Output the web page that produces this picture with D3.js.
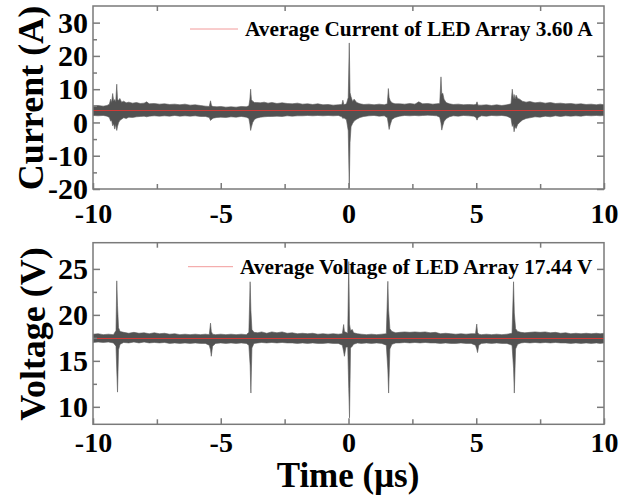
<!DOCTYPE html>
<html>
<head>
<meta charset="utf-8">
<script src="https://cdn.jsdelivr.net/npm/d3@7/dist/d3.min.js"></script>
<style>
  body { margin: 0; background: #fff; }
  svg { display: block; }
</style>
</head>
<body>
<div id="chart"></div>
<script>
// time axis (us)
var timeMajor = [-10, -5, 0, 5, 10];
var timeMinor = [-7.5, -2.5, 2.5, 7.5];

// current panel
var currentMajor = [-20, -10, 0, 10, 20, 30];
var currentMinor = [-15, -5, 5, 15, 25];
var currentAvg = 3.60;
// [time, upper, lower] envelope of the scope trace
var currentTrace = [
  [-10.0, 5.0, 2.1], [-9.8, 5.1, 2.0], [-9.6, 4.9, 2.1], [-9.45, 5.1, 1.9],
  [-9.36, 5.5, 1.5], [-9.31, 7.0, 0.4], [-9.27, 6.0, 0.6], [-9.23, 8.7, -1.0],
  [-9.19, 6.4, -0.4], [-9.15, 6.9, -2.0], [-9.11, 6.2, -0.6], [-9.07, 11.5, -2.4],
  [-9.04, 7.0, -1.2], [-9.0, 6.6, -0.1], [-8.95, 7.2, 0.6], [-8.88, 6.1, 1.0],
  [-8.8, 6.4, 1.4], [-8.7, 5.9, 1.2], [-8.6, 6.1, 1.6], [-8.45, 5.8, 1.5],
  [-8.3, 6.0, 1.7], [-8.15, 5.7, 1.8], [-8.0, 5.8, 1.9], [-7.9, 6.2, 1.7],
  [-7.8, 5.6, 1.9], [-7.6, 5.7, 2.0], [-7.4, 5.5, 1.9], [-7.2, 5.6, 2.0],
  [-7.0, 5.4, 1.9], [-6.8, 5.5, 2.1], [-6.6, 5.3, 1.9], [-6.4, 5.5, 2.0],
  [-6.2, 5.2, 1.9], [-6.0, 5.3, 2.0], [-5.8, 5.1, 1.8], [-5.6, 4.9, 1.8],
  [-5.45, 4.8, 1.5], [-5.4, 6.5, 0.6], [-5.36, 5.0, 0.9], [-5.3, 4.8, 1.3],
  [-5.15, 4.7, 1.5], [-5.0, 4.8, 1.6], [-4.8, 4.6, 1.5], [-4.6, 4.7, 1.7],
  [-4.4, 4.6, 1.6], [-4.2, 4.8, 1.8], [-4.0, 4.7, 1.6], [-3.9, 5.0, 1.2],
  [-3.86, 7.0, -0.5], [-3.83, 10.0, -2.4], [-3.8, 6.8, -1.4], [-3.75, 6.4, 0.0],
  [-3.68, 6.0, 0.9], [-3.6, 6.0, 1.3], [-3.45, 5.9, 1.6], [-3.3, 6.1, 1.7],
  [-3.15, 5.8, 1.8], [-3.0, 6.0, 1.8], [-2.8, 5.7, 1.9], [-2.6, 5.9, 1.8],
  [-2.4, 5.7, 2.0], [-2.2, 5.6, 1.9], [-2.0, 5.8, 2.0], [-1.8, 5.5, 2.0],
  [-1.6, 5.6, 2.1], [-1.4, 5.4, 2.0], [-1.2, 5.6, 2.1], [-1.0, 5.3, 2.0],
  [-0.8, 5.4, 2.1], [-0.6, 5.2, 2.0], [-0.4, 5.3, 2.1], [-0.26, 5.4, 1.7],
  [-0.22, 6.7, 1.2], [-0.18, 5.3, 1.4], [-0.08, 5.6, 0.8], [-0.01, 7.5, -2.5],
  [0.03, 23.9, -19.7], [0.06, 9.0, -6.0], [0.1, 7.7, -1.3], [0.16, 6.3, -0.3],
  [0.22, 7.0, 0.4], [0.32, 6.0, 1.0], [0.45, 5.6, 1.5], [0.6, 5.4, 1.8],
  [0.8, 5.5, 2.0], [1.0, 5.3, 2.1], [1.2, 5.5, 1.9], [1.4, 5.3, 2.0],
  [1.52, 5.6, 1.4], [1.56, 10.2, -0.5], [1.59, 7.5, -2.1], [1.63, 6.6, -0.8],
  [1.7, 5.9, 0.9], [1.82, 5.6, 1.5], [2.0, 5.6, 1.9], [2.2, 5.5, 2.1],
  [2.4, 5.7, 2.0], [2.6, 5.5, 2.1], [2.75, 6.2, 2.0], [2.9, 5.6, 2.1],
  [3.1, 5.7, 2.2], [3.3, 5.5, 2.1], [3.45, 5.6, 2.0], [3.57, 5.7, 1.6],
  [3.62, 13.7, -0.2], [3.65, 8.5, -2.3], [3.69, 8.8, -1.0], [3.74, 7.0, 0.3],
  [3.82, 6.0, 1.1], [3.95, 5.6, 1.7], [4.1, 5.4, 2.0], [4.3, 5.5, 1.9],
  [4.5, 5.3, 2.1], [4.7, 5.4, 2.0], [4.9, 5.3, 1.9], [4.99, 5.4, 1.5],
  [5.03, 6.2, 0.7], [5.07, 5.2, 1.5], [5.2, 5.2, 2.0], [5.4, 5.3, 1.9],
  [5.6, 5.1, 2.1], [5.8, 5.3, 2.0], [6.0, 5.1, 2.1], [6.2, 5.3, 1.9],
  [6.36, 5.6, 1.3], [6.41, 10.0, -1.2], [6.45, 7.0, -0.5], [6.48, 8.4, -2.8],
  [6.52, 7.0, -1.2], [6.56, 8.2, -1.8], [6.62, 7.2, -0.6], [6.7, 7.0, 0.0],
  [6.8, 6.4, 0.7], [6.95, 6.1, 1.2], [7.1, 6.3, 1.4], [7.3, 5.9, 1.7],
  [7.5, 6.1, 1.6], [7.7, 5.8, 1.9], [7.9, 6.0, 1.7], [8.1, 5.7, 2.0],
  [8.3, 5.8, 1.8], [8.5, 5.6, 2.0], [8.7, 5.7, 1.9], [8.9, 5.5, 2.0],
  [9.1, 5.6, 1.9], [9.3, 5.4, 2.1], [9.5, 5.5, 2.0], [9.7, 5.3, 2.1],
  [9.85, 5.5, 2.0], [10.0, 5.3, 2.1]
];

// voltage panel
var voltageMajor = [10, 15, 20, 25];
var voltageMinor = [12.5, 17.5, 22.5];
var voltageAvg = 17.44;
var voltageTrace = [
  [-10.0, 17.9, 17.0], [-9.8, 17.95, 17.05], [-9.6, 17.85, 17.0], [-9.4, 17.9, 17.05],
  [-9.2, 17.85, 16.95], [-9.1, 18.3, 16.6], [-9.07, 23.7, 14.0], [-9.04, 21.0, 11.6],
  [-9.0, 18.6, 16.2], [-8.94, 18.2, 16.8], [-8.8, 18.1, 17.0], [-8.6, 18.0, 16.95],
  [-8.4, 18.1, 17.05], [-8.2, 18.0, 16.95], [-8.0, 18.05, 17.05], [-7.8, 17.95, 16.95],
  [-7.6, 18.05, 17.0], [-7.4, 17.95, 16.95], [-7.2, 18.0, 17.0], [-7.0, 17.9, 16.9],
  [-6.8, 17.95, 16.95], [-6.6, 17.85, 16.9], [-6.4, 17.9, 16.95], [-6.2, 17.85, 16.9],
  [-6.0, 17.9, 16.95], [-5.8, 17.85, 16.9], [-5.6, 17.9, 16.9], [-5.45, 17.85, 16.7],
  [-5.4, 19.1, 16.2], [-5.37, 18.2, 15.5], [-5.32, 17.9, 16.6], [-5.2, 17.85, 16.9],
  [-5.0, 17.9, 16.95], [-4.8, 17.85, 16.9], [-4.6, 17.9, 16.95], [-4.4, 17.85, 16.9],
  [-4.2, 17.9, 16.95], [-4.0, 17.85, 16.9], [-3.9, 18.1, 16.7], [-3.85, 23.6, 14.5],
  [-3.82, 20.5, 11.5], [-3.78, 18.4, 16.4], [-3.7, 18.1, 16.9], [-3.55, 18.05, 16.95],
  [-3.4, 18.15, 17.0], [-3.2, 18.0, 16.95], [-3.0, 18.15, 17.0], [-2.8, 18.05, 16.95],
  [-2.6, 18.15, 17.0], [-2.4, 18.0, 16.95], [-2.2, 18.05, 16.95], [-2.0, 17.95, 16.9],
  [-1.8, 18.0, 16.95], [-1.6, 17.95, 16.9], [-1.4, 18.0, 16.95], [-1.2, 17.9, 16.9],
  [-1.0, 17.95, 16.9], [-0.8, 17.9, 16.95], [-0.6, 17.95, 16.9], [-0.4, 17.9, 16.9],
  [-0.24, 17.95, 16.7], [-0.19, 18.95, 16.0], [-0.16, 18.2, 15.5], [-0.1, 18.1, 16.5],
  [-0.03, 18.0, 16.5], [0.01, 25.8, 12.0], [0.04, 19.0, 8.8], [0.08, 18.3, 16.4],
  [0.15, 18.4, 16.6], [0.2, 18.05, 16.8], [0.35, 17.95, 16.95], [0.5, 17.9, 16.9],
  [0.7, 17.85, 16.95], [0.9, 17.9, 16.9], [1.1, 17.85, 16.95], [1.3, 17.9, 16.9],
  [1.48, 17.95, 16.7], [1.54, 23.65, 14.0], [1.57, 20.5, 11.5], [1.62, 18.5, 16.3],
  [1.7, 18.2, 16.8], [1.85, 18.05, 16.95], [2.0, 18.1, 16.95], [2.2, 18.15, 17.0],
  [2.4, 18.1, 16.95], [2.6, 18.15, 17.0], [2.8, 18.1, 16.95], [3.0, 18.15, 17.0],
  [3.2, 18.05, 16.95], [3.4, 18.1, 16.95], [3.6, 17.95, 16.9], [3.8, 18.0, 16.95],
  [4.0, 17.95, 16.9], [4.2, 17.9, 16.9], [4.4, 17.95, 16.95], [4.6, 17.9, 16.9],
  [4.8, 17.95, 16.9], [4.97, 17.95, 16.7], [5.02, 19.0, 16.3], [5.05, 18.1, 15.9],
  [5.1, 17.9, 16.7], [5.2, 17.85, 16.9], [5.4, 17.9, 16.95], [5.6, 17.85, 16.9],
  [5.8, 17.9, 16.95], [6.0, 17.85, 16.9], [6.2, 17.9, 16.9], [6.4, 18.0, 16.7],
  [6.46, 23.6, 14.2], [6.49, 20.2, 11.5], [6.54, 18.5, 16.3], [6.62, 18.2, 16.8],
  [6.75, 18.1, 16.95], [6.9, 18.05, 17.0], [7.1, 18.1, 16.95], [7.3, 18.15, 17.0],
  [7.5, 18.1, 16.95], [7.7, 18.15, 17.0], [7.9, 18.05, 16.95], [8.1, 18.1, 17.0],
  [8.3, 18.0, 16.95], [8.5, 18.05, 16.95], [8.7, 17.95, 16.9], [8.9, 18.0, 16.95],
  [9.1, 17.95, 16.9], [9.3, 18.0, 16.95], [9.5, 17.95, 16.9], [9.7, 18.0, 16.95],
  [9.85, 17.95, 16.9], [10.0, 18.0, 16.95]
];

var W = 633, H = 498;
var FONT = "'Liberation Serif', 'Times New Roman', serif";
var GRAY = "#7a7a7a";

var svg = d3.select("#chart").append("svg")
    .attr("width", W)
    .attr("height", H)
    .style("background", "#fff");

var x = d3.scaleLinear().domain([-10, 10]).range([93, 604]);

function drawPanel(opt) {
    var y = d3.scaleLinear().domain(opt.domain).range([opt.bottom, opt.top]);
    var g = svg.append("g");

    g.append("clipPath").attr("id", opt.id + "-clip")
        .append("rect")
        .attr("x", x(-10)).attr("y", opt.top)
        .attr("width", x(10) - x(-10)).attr("height", opt.bottom - opt.top);

    var area = d3.area()
        .x(function (d) { return x(d[0]); })
        .y0(function (d) { return y(d[2]); })
        .y1(function (d) { return y(d[1]); });

    g.append("path")
        .datum(opt.trace)
        .attr("clip-path", "url(#" + opt.id + "-clip)")
        .attr("d", area)
        .attr("fill", "#525252")
        .attr("stroke", "#5a5a5a")
        .attr("stroke-width", 0.6);

    // average line
    g.append("line")
        .attr("x1", x(-10)).attr("x2", x(10))
        .attr("y1", Math.round(y(opt.avg)) + 0.5).attr("y2", Math.round(y(opt.avg)) + 0.5)
        .attr("stroke", "#d33a36")
        .attr("stroke-width", 1);

    // legend
    g.append("line")
        .attr("x1", opt.legend.x1).attr("x2", opt.legend.x2)
        .attr("y1", opt.legend.y).attr("y2", opt.legend.y)
        .attr("stroke", "#f29a9a")
        .attr("stroke-width", 1);
    g.append("text")
        .attr("x", opt.legend.tx)
        .attr("y", opt.legend.y + 7)
        .text(opt.legend.text)
        .style("font-family", FONT)
        .style("font-weight", "bold")
        .style("font-size", "21.3px");

    // frame
    g.append("rect")
        .attr("x", x(-10)).attr("y", opt.top)
        .attr("width", x(10) - x(-10)).attr("height", opt.bottom - opt.top)
        .attr("fill", "none")
        .attr("stroke", GRAY)
        .attr("stroke-width", 1.5);

    var plain = function (d) { return String(d); };

    // bottom axis
    var bx = g.append("g").attr("class", "xaxis").attr("transform", "translate(0," + opt.bottom + ")")
        .call(d3.axisBottom(x).tickValues(timeMajor).tickSize(-6).tickPadding(opt.xPad).tickFormat(plain));
    bx.append("g").call(d3.axisBottom(x).tickValues(timeMinor).tickSize(-5).tickFormat(""));
    // top axis (minor only)
    g.append("g").attr("transform", "translate(0," + opt.top + ")")
        .call(d3.axisTop(x).tickValues(timeMinor).tickSize(-5).tickFormat(""));
    // left axis
    var ly = g.append("g").attr("class", "yaxis").attr("transform", "translate(" + x(-10) + ",0)")
        .call(d3.axisLeft(y).tickValues(opt.major).tickSize(-7).tickPadding(5).tickFormat(plain));
    ly.append("g").call(d3.axisLeft(y).tickValues(opt.minor).tickSize(-4).tickFormat(""));
    // right axis
    g.append("g").attr("transform", "translate(" + x(10) + ",0)")
        .call(d3.axisRight(y).tickValues(opt.major).tickSize(-7).tickFormat(""));

    g.selectAll(".domain").remove();
    g.selectAll(".tick line").attr("stroke", GRAY).attr("stroke-width", 1.5);
    g.selectAll(".tick text")
        .style("font-family", FONT)
        .style("font-weight", "bold")
        .attr("fill", "#000");
    g.selectAll(".xaxis .tick text").style("font-size", "28px");
    g.selectAll(".yaxis .tick text").style("font-size", "30px");

    // y title
    g.append("text")
        .attr("transform", "translate(" + opt.titleX + "," + opt.titleY + ") rotate(-90)")
        .attr("text-anchor", "middle")
        .text(opt.title)
        .style("font-family", FONT)
        .style("font-weight", "bold")
        .style("font-size", "36px");
}

drawPanel({
    id: "cur", domain: [-20, 35], top: 6, bottom: 189,
    trace: currentTrace, avg: currentAvg,
    major: currentMajor, minor: currentMinor, xPad: 14,
    legend: { x1: 190, x2: 238, y: 29, tx: 245, text: "Average Current of LED Array 3.60 A" },
    title: "Current (A)", titleX: 43, titleY: 98
});

drawPanel({
    id: "vol", domain: [8.1, 27.85], top: 242.7, bottom: 424.3,
    trace: voltageTrace, avg: voltageAvg,
    major: voltageMajor, minor: voltageMinor, xPad: 8,
    legend: { x1: 188, x2: 233, y: 266.7, tx: 240, text: "Average Voltage of LED Array 17.44 V" },
    title: "Voltage (V)", titleX: 45, titleY: 334
});

svg.append("text")
    .attr("x", 348)
    .attr("y", 487)
    .attr("text-anchor", "middle")
    .text("Time (\u03bcs)")
    .style("font-family", FONT)
    .style("font-weight", "bold")
    .style("font-size", "35px");
</script>
</body>
</html>
